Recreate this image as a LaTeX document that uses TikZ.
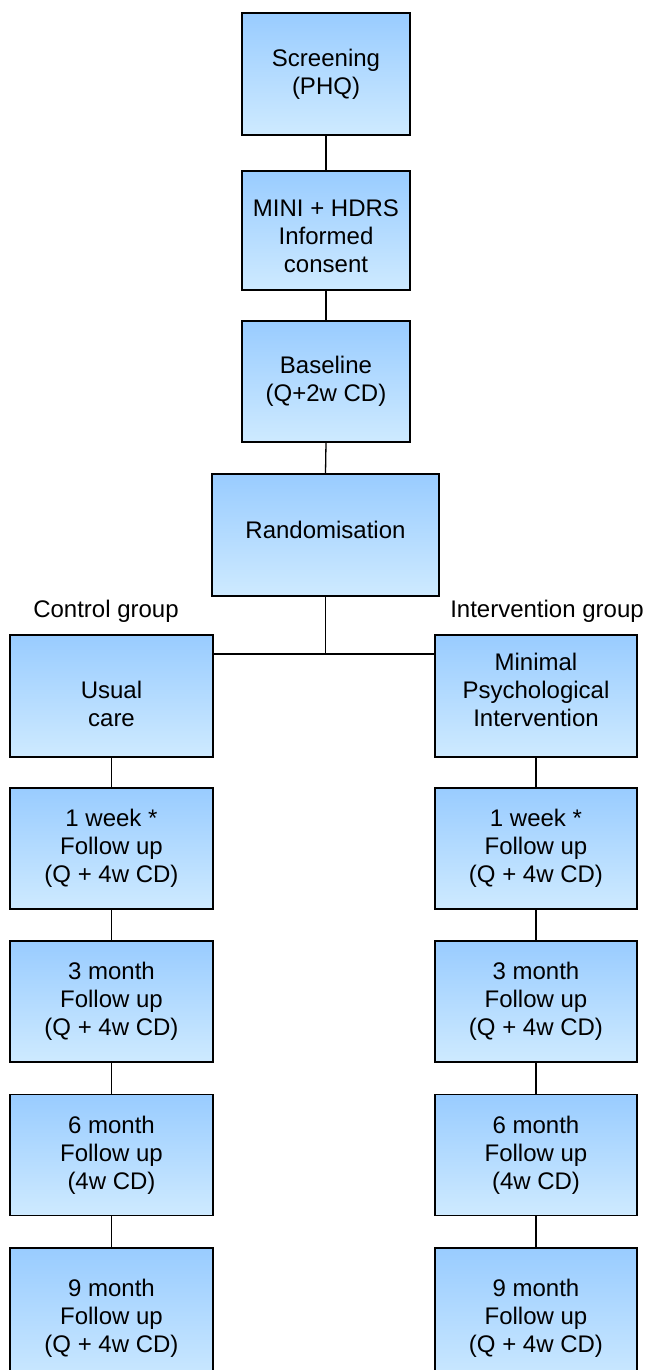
\documentclass[tikz,border=0pt]{standalone}
\usepackage{fontspec}
\setmainfont{Liberation Sans}
\begin{document}
\begin{tikzpicture}[x=1pt,y=-1pt,
  box/.style={draw=black, line width=1.4pt, top color=boxtop, bottom color=boxbot,
    minimum width=#1, align=center, inner sep=0pt, font=\fontsize{24}{28}\selectfont},
  box/.default=168pt,
  txt/.style={align=center, inner sep=0pt, font=\fontsize{24}{28}\selectfont},
  lbl/.style={font=\fontsize{24}{28}\selectfont, inner sep=0pt},
  conn/.style={line width=1.3pt}]
\definecolor{boxtop}{RGB}{153,204,255}
\definecolor{boxbot}{RGB}{206,234,255}
\useasboundingbox (0,0) rectangle (647,1370);
\clip (0,0) rectangle (647,1370);
% central column
\node[box=168pt, minimum height=122pt] (scr) at (326,74) {Screening\\(PHQ)};
\node[box=168pt, minimum height=119pt] (mini) at (326,230.5) {};
\node[txt] (minit) at ([yshift=-6pt]mini.center) {MINI + HDRS\\Informed\\consent};
\node[box=168pt, minimum height=121pt] (base) at (326,381.5) {Baseline\\(Q+2w CD)};
\node[box=227pt, minimum height=122pt] (rand) at (325.5,535) {};
\node[txt] (randt) at ([yshift=5pt]rand.center) {Randomisation};
% labels
\node[lbl] (cg) at (106,611) {Control group};
\node[lbl] (ig) at (547,611) {Intervention group};
% left column
\node[box=203pt, minimum height=122pt] (uc) at (111.5,696) {};
\node[txt] (uct) at ([yshift=-8pt]uc.center) {Usual\\care};
\node[box=203pt, minimum height=121pt] (l1) at (111.5,848.5) {1 week *\\Follow up\\(Q + 4w CD)};
\node[box=203pt, minimum height=121pt] (l3) at (111.5,1001.5) {3 month\\Follow up\\(Q + 4w CD)};
\node[box=203pt, minimum height=121pt] (l6) at (111.5,1155) {6 month\\Follow up\\(4w CD)};
\node[box=203pt, minimum height=140pt] (l9) at (111.5,1318) {9 month\\Follow up\\(Q + 4w CD)};
% right column
\node[box=202pt, minimum height=122pt] (mpi) at (536,696) {};
\node[txt] (mpit) at ([yshift=6pt]mpi.center) {Minimal\\Psychological\\Intervention};
\node[box=202pt, minimum height=121pt] (r1) at (536,848.5) {1 week *\\Follow up\\(Q + 4w CD)};
\node[box=202pt, minimum height=121pt] (r3) at (536,1001.5) {3 month\\Follow up\\(Q + 4w CD)};
\node[box=202pt, minimum height=121pt] (r6) at (536,1155) {6 month\\Follow up\\(4w CD)};
\node[box=202pt, minimum height=140pt] (r9) at (536,1318) {9 month\\Follow up\\(Q + 4w CD)};
% connectors
\draw[conn] (scr.south) -- (mini.north);
\draw[conn] (mini.south) -- (base.north);
\draw[conn] (base.south) -- (rand.north);
\coordinate (j) at (rand.south |- 0,654);
\draw[conn] (rand.south) -- (j);
\draw[conn] (uc.east |- j) -- (mpi.west |- j);
\draw[conn] (uc.south) -- (l1.north);
\draw[conn] (l1.south) -- (l3.north);
\draw[conn] (l3.south) -- (l6.north);
\draw[conn] (l6.south) -- (l9.north);
\draw[conn] (mpi.south) -- (r1.north);
\draw[conn] (r1.south) -- (r3.north);
\draw[conn] (r3.south) -- (r6.north);
\draw[conn] (r6.south) -- (r9.north);
\end{tikzpicture}
\end{document}
